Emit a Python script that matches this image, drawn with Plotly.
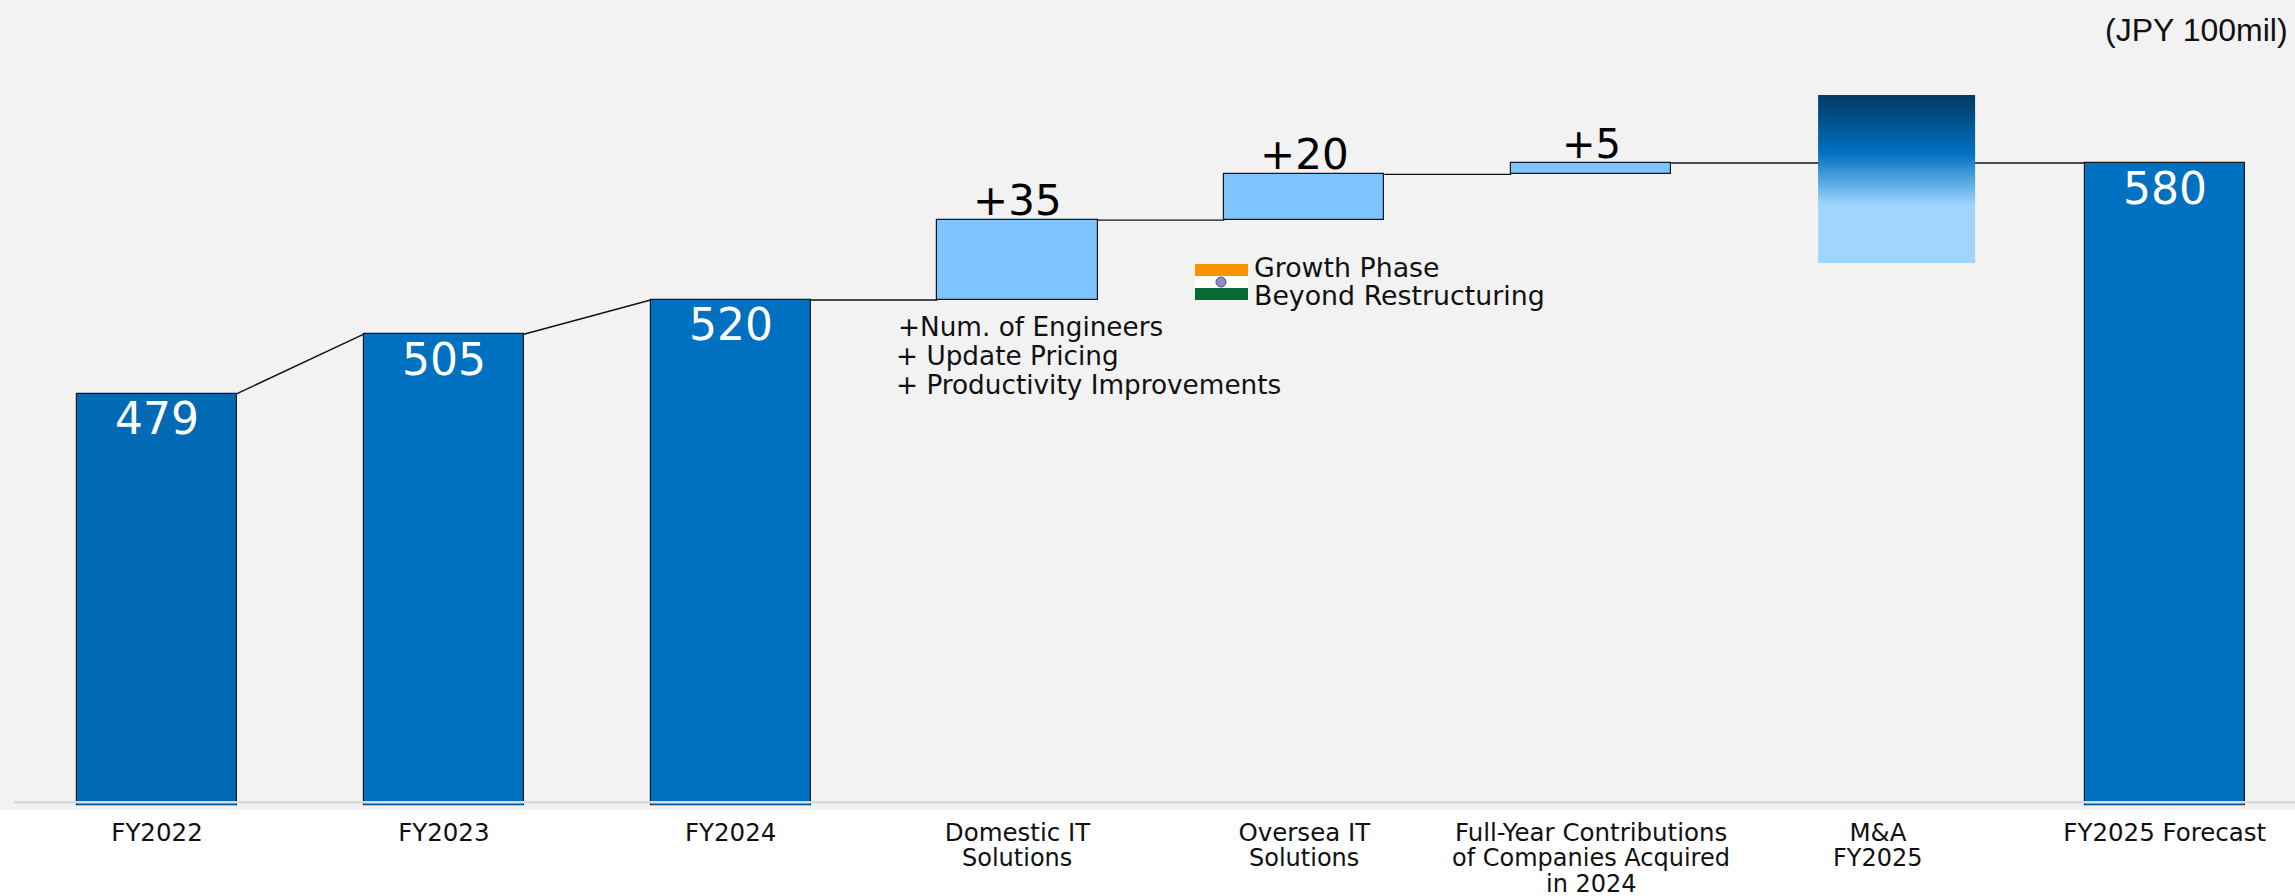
import plotly.graph_objects as go

# Waterfall steps, in JPY 100mil
categories = ["FY2022", "FY2023", "FY2024", "Domestic IT", "Oversea IT",
              "Full-Year Contributions", "M&A", "FY2025 Forecast"]
category_extra_lines = {3: ["Solutions"], 4: ["Solutions"],
                        5: ["of Companies Acquired", "in 2024"], 6: ["FY2025"]}
total_idx = [0, 1, 2, 7]
total_values = [479, 505, 520, 580]
total_colors = ["#006ab5", "#0070c0", "#0070c0", "#0070c0"]
step_idx = [3, 4, 5]
step_base = [520, 555, 575]
step_delta = [35, 20, 5]
mna_low, mna_high = 536.2, 609.8
mna_x = 6.065
axis_floor = 298.3
baseline = 300
bar_w = 0.558

DARK = "#111a24"
LABEL_FONT = "DejaVu Sans"

fig = go.Figure()

# Connector lines: each one leaves a block at its top and meets the next block where it starts
connector_from = [0, 1, 2, 3, 4, 5]
connector_to = [1, 2, 3, 4, 5, 7]
connector_start = [479, 505, 520, 555, 575, 580]
connector_end = [505, 520, 520, 555, 575, 580]
cx, cy = [], []
for a, b, y0, y1 in zip(connector_from, connector_to, connector_start, connector_end):
    cx += [a + bar_w / 2, b - bar_w / 2, None]
    cy += [y0, y1, None]
fig.add_trace(go.Scatter(x=cx, y=cy, mode="lines", line=dict(color="#111111", width=1.4),
                         hoverinfo="skip", showlegend=False))

# Totals
fig.add_trace(go.Bar(x=total_idx, y=[v - axis_floor for v in total_values], base=axis_floor,
                     width=bar_w, marker=dict(color=total_colors, line=dict(color=DARK, width=1.2)),
                     showlegend=False))
# Increments
fig.add_trace(go.Bar(x=step_idx, y=step_delta, base=step_base, width=bar_w,
                     marker=dict(color="#7fc4ff", line=dict(color=DARK, width=1.2)),
                     showlegend=False))

# M&A block with a vertical gradient
half = bar_w / 2 * 0.981
fig.add_trace(go.Scatter(
    x=[mna_x - half, mna_x + half, mna_x + half, mna_x - half, mna_x - half],
    y=[mna_low, mna_low, mna_high, mna_high, mna_low],
    mode="lines", line=dict(width=0), fill="toself",
    fillgradient=dict(type="vertical", start=mna_low, stop=mna_high,
                      colorscale=[[0, "#9fd5fe"], [0.345, "#9fd5fe"],
                                  [0.655, "#0070c0"], [1, "#033a63"]]),
    hoverinfo="skip", showlegend=False))

# Value labels
for i, v in zip(total_idx, total_values):
    fig.add_annotation(x=i, y=v, text=str(v), showarrow=False, yshift=-25, yanchor="middle",
                       font=dict(family=LABEL_FONT, size=44, color="white"))
for i, b, d in zip(step_idx, step_base, step_delta):
    fig.add_annotation(x=i, y=b + d, text=f"+{d}", showarrow=False,
                       yshift=19 if d < 10 else 20, yanchor="middle",
                       font=dict(family=LABEL_FONT, size=40 if d < 10 else 42, color="black"))

# Continuation lines of the category labels
for i, lines in category_extra_lines.items():
    for n, line in enumerate(lines):
        fig.add_annotation(x=i, y=0, yref="paper", text=line, showarrow=False, yanchor="middle",
                           yshift=-48 - 26 * n, borderpad=0,
                           font=dict(family=LABEL_FONT, size=24, color="#111111"))


def note(text, px, py, size, family=LABEL_FONT, anchor="left"):
    fig.add_annotation(x=px / 2295, y=1 - py / 810, xref="paper", yref="paper", text=text,
                       showarrow=False, xanchor=anchor, yanchor="middle",
                       font=dict(family=family, size=size, color="#111111"))


note("+Num. of Engineers", 896, 327, 26.3)
note("+ Update Pricing", 894, 356, 26.3)
note("+ Productivity Improvements", 894, 385, 26.3)
note("Growth Phase", 1252, 267, 26.8)
note("Beyond Restructuring", 1252, 296, 26.8)
note("(JPY 100mil)", 2290, 30, 32, family="Liberation Sans", anchor="right")


# Flag next to the overseas note
def flag_rect(y0, y1, color):
    fig.add_shape(type="rect", xref="paper", yref="paper", x0=1195 / 2295, x1=1248 / 2295,
                  y0=1 - y1 / 810, y1=1 - y0 / 810, fillcolor=color, line=dict(width=0))


flag_rect(264, 276, "#f79400")
flag_rect(276, 288, "#ffffff")
flag_rect(288, 300, "#046a38")
fig.add_shape(type="circle", xref="paper", yref="paper", x0=1216 / 2295, x1=1226 / 2295,
              y0=1 - 287 / 810, y1=1 - 277 / 810, fillcolor="#8a90c0",
              line=dict(color="#4a5290", width=1))

# Baseline crossing the bars just above their feet
fig.add_shape(type="line", xref="paper", yref="y", x0=14 / 2295, x1=1, y0=baseline, y1=baseline,
              line=dict(color="#d9d9d9", width=2.5), layer="above")
# Open feet: hide the bottom stroke of the bars
fig.add_shape(type="line", xref="paper", yref="y", x0=0, x1=1, y0=axis_floor - 0.1,
              y1=axis_floor - 0.1, line=dict(color="#f2f2f2", width=2), layer="above")

fig.update_layout(
    width=2295, height=896, margin=dict(l=0, r=0, t=0, b=86),
    paper_bgcolor="white", plot_bgcolor="#f2f2f2",
    bargap=0, barmode="overlay", showlegend=False,
    xaxis=dict(range=[-0.5474, 7.454], tickmode="array", tickvals=list(range(8)),
               ticktext=categories, tickfont=dict(family=LABEL_FONT, size=24.5, color="#111111"),
               showgrid=False, zeroline=False, showline=False, ticks="outside", ticklen=1,
               tickcolor="rgba(0,0,0,0)"),
    yaxis=dict(range=[296.6, 651.4], visible=False, showgrid=False, zeroline=False),
)

fig.write_html("out.html")
